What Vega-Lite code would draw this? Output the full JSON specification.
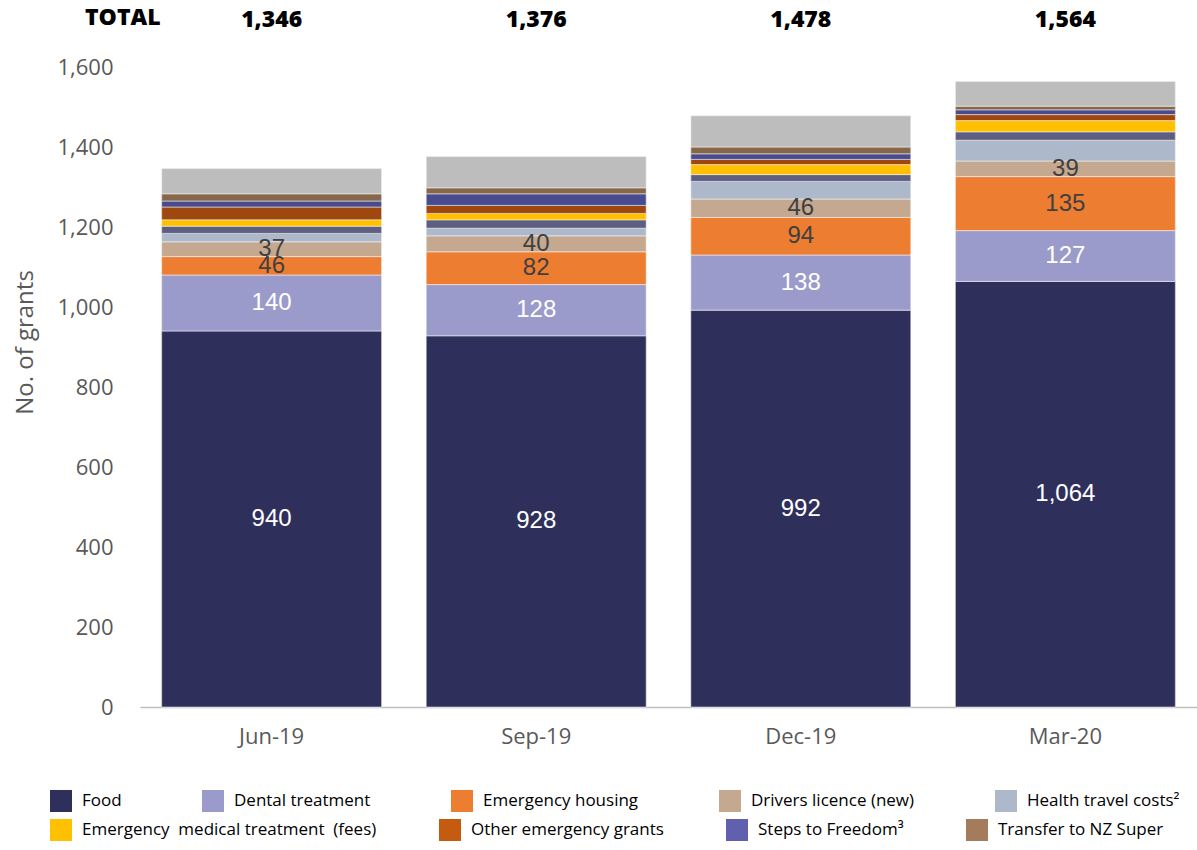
{
  "$schema": "https://vega.github.io/schema/vega-lite/v6.json",
  "width": 1057,
  "height": 640,
  "padding": {"left": 13, "top": 6, "right": 0, "bottom": 0},
  "title": {
    "text": "TOTAL",
    "anchor": "start",
    "frame": "group",
    "dx": -55,
    "dy": 29,
    "offset": 8,
    "fontSize": 23,
    "fontWeight": 800,
    "font": "Open Sans",
    "color": "#000000"
  },
  "data": {
    "values": [
      {"period": "Jun-19", "series": "Food", "ord": 1, "value": 940},
      {"period": "Jun-19", "series": "Dental treatment", "ord": 2, "value": 140},
      {"period": "Jun-19", "series": "Emergency housing", "ord": 3, "value": 46},
      {"period": "Jun-19", "series": "Drivers licence (new)", "ord": 4, "value": 37},
      {"period": "Jun-19", "series": "Health travel costs²", "ord": 5, "value": 21},
      {"period": "Jun-19", "series": "Other grants", "ord": 6, "value": 18},
      {"period": "Jun-19", "series": "Emergency\u00a0 medical treatment\u00a0 (fees)", "ord": 7, "value": 16},
      {"period": "Jun-19", "series": "Other emergency grants", "ord": 8, "value": 32},
      {"period": "Jun-19", "series": "Steps to Freedom³", "ord": 9, "value": 15},
      {"period": "Jun-19", "series": "Transfer to NZ Super", "ord": 10, "value": 18},
      {"period": "Jun-19", "series": "All other grants", "ord": 11, "value": 63},

      {"period": "Sep-19", "series": "Food", "ord": 1, "value": 928},
      {"period": "Sep-19", "series": "Dental treatment", "ord": 2, "value": 128},
      {"period": "Sep-19", "series": "Emergency housing", "ord": 3, "value": 82},
      {"period": "Sep-19", "series": "Drivers licence (new)", "ord": 4, "value": 40},
      {"period": "Sep-19", "series": "Health travel costs²", "ord": 5, "value": 19},
      {"period": "Sep-19", "series": "Other grants", "ord": 6, "value": 21},
      {"period": "Sep-19", "series": "Emergency\u00a0 medical treatment\u00a0 (fees)", "ord": 7, "value": 16},
      {"period": "Sep-19", "series": "Other emergency grants", "ord": 8, "value": 20},
      {"period": "Sep-19", "series": "Steps to Freedom³", "ord": 9, "value": 29},
      {"period": "Sep-19", "series": "Transfer to NZ Super", "ord": 10, "value": 15},
      {"period": "Sep-19", "series": "All other grants", "ord": 11, "value": 78},

      {"period": "Dec-19", "series": "Food", "ord": 1, "value": 992},
      {"period": "Dec-19", "series": "Dental treatment", "ord": 2, "value": 138},
      {"period": "Dec-19", "series": "Emergency housing", "ord": 3, "value": 94},
      {"period": "Dec-19", "series": "Drivers licence (new)", "ord": 4, "value": 46},
      {"period": "Dec-19", "series": "Health travel costs²", "ord": 5, "value": 44},
      {"period": "Dec-19", "series": "Other grants", "ord": 6, "value": 17},
      {"period": "Dec-19", "series": "Emergency\u00a0 medical treatment\u00a0 (fees)", "ord": 7, "value": 25},
      {"period": "Dec-19", "series": "Other emergency grants", "ord": 8, "value": 13},
      {"period": "Dec-19", "series": "Steps to Freedom³", "ord": 9, "value": 14},
      {"period": "Dec-19", "series": "Transfer to NZ Super", "ord": 10, "value": 17},
      {"period": "Dec-19", "series": "All other grants", "ord": 11, "value": 78},

      {"period": "Mar-20", "series": "Food", "ord": 1, "value": 1064},
      {"period": "Mar-20", "series": "Dental treatment", "ord": 2, "value": 127},
      {"period": "Mar-20", "series": "Emergency housing", "ord": 3, "value": 135},
      {"period": "Mar-20", "series": "Drivers licence (new)", "ord": 4, "value": 39},
      {"period": "Mar-20", "series": "Health travel costs²", "ord": 5, "value": 52},
      {"period": "Mar-20", "series": "Other grants", "ord": 6, "value": 21},
      {"period": "Mar-20", "series": "Emergency\u00a0 medical treatment\u00a0 (fees)", "ord": 7, "value": 28},
      {"period": "Mar-20", "series": "Other emergency grants", "ord": 8, "value": 15},
      {"period": "Mar-20", "series": "Steps to Freedom³", "ord": 9, "value": 12},
      {"period": "Mar-20", "series": "Transfer to NZ Super", "ord": 10, "value": 9},
      {"period": "Mar-20", "series": "All other grants", "ord": 11, "value": 62}
    ]
  },
  "encoding": {
    "x": {
      "field": "period",
      "type": "nominal",
      "sort": ["Jun-19", "Sep-19", "Dec-19", "Mar-20"],
      "scale": {"paddingInner": 0.169, "paddingOuter": 0.082},
      "axis": {
        "title": null,
        "labelAngle": 0,
        "ticks": false,
        "tickSize": 0,
        "labelPadding": 19,
        "labelFontSize": 22,
        "labelColor": "#595959",
        "labelFont": "Open Sans",
        "domainColor": "#BFBFBF",
        "domainWidth": 1.5
      }
    }
  },
  "layer": [
    {
      "mark": {"type": "bar", "stroke": "#ffffff", "strokeWidth": 0.5},
      "encoding": {
        "y": {
          "field": "value",
          "type": "quantitative",
          "stack": "zero",
          "scale": {"domain": [0, 1600], "nice": false},
          "axis": {
            "values": [0, 200, 400, 600, 800, 1000, 1200, 1400, 1600],
            "format": ",d",
            "grid": false,
            "domain": false,
            "ticks": false,
            "tickSize": 0,
            "labelPadding": 27,
            "labelFontSize": 22,
            "labelColor": "#595959",
            "labelFont": "Open Sans",
            "title": "No. of grants",
            "titleFontSize": 24,
            "titleFontWeight": "normal",
            "titleColor": "#595959",
            "titleFont": "Open Sans",
            "titlePadding": 19,
            "titleY": 275
          }
        },
        "fill": {
          "field": "series",
          "type": "nominal",
          "scale": {
            "domain": ["Emergency\u00a0 medical treatment\u00a0 (fees)", "Other emergency grants", "Steps to Freedom³", "Transfer to NZ Super", "Food", "Dental treatment", "Emergency housing", "Drivers licence (new)", "Health travel costs²", "Other grants", "All other grants"],
            "range": ["#FFC000", "#C55A11", "#6060AE", "#A57C5B", "#2F2F5C", "#9B9BCB", "#ED7D31", "#C4A890", "#ADB9CA", "#5E5E80", "#BDBDBD"]
          },
          "legend": {
            "orient": "none",
            "legendX": -90,
            "legendY": 752,
            "direction": "horizontal",
            "columns": 4,
            "values": ["Emergency\u00a0 medical treatment\u00a0 (fees)", "Other emergency grants", "Steps to Freedom³", "Transfer to NZ Super"],
            "title": null,
            "symbolType": "square",
            "symbolSize": 484,
            "symbolStrokeWidth": 0,
            "labelFontSize": 17,
            "labelFont": "Open Sans",
            "labelColor": "#000000",
            "labelOffset": 10,
            "labelLimit": 400,
            "columnPadding": 62
          }
        },
        "order": {"field": "ord", "type": "quantitative", "sort": "ascending"}
      }
    },
    {
      "mark": {"type": "bar", "stroke": "#ffffff", "strokeWidth": 0.5},
      "encoding": {
        "y": {"field": "value", "type": "quantitative", "stack": "zero"},
        "color": {
          "field": "series",
          "type": "nominal",
          "scale": {
            "domain": ["Food", "Dental treatment", "Emergency housing", "Drivers licence (new)", "Health travel costs²", "Other grants", "Emergency\u00a0 medical treatment\u00a0 (fees)", "Other emergency grants", "Steps to Freedom³", "Transfer to NZ Super", "All other grants"],
            "range": ["#2F2F5C", "#9B9BCB", "#ED7D31", "#C4A890", "#ADB9CA", "#5E5E80", "#FFC000", "#9E470E", "#484C8E", "#87674A", "#BDBDBD"]
          },
          "legend": {
            "orient": "none",
            "legendX": -90,
            "legendY": 723,
            "direction": "horizontal",
            "columns": 5,
            "values": ["Food", "Dental treatment", "Emergency housing", "Drivers licence (new)", "Health travel costs²"],
            "title": null,
            "symbolType": "square",
            "symbolSize": 484,
            "symbolStrokeWidth": 0,
            "labelFontSize": 17,
            "labelFont": "Open Sans",
            "labelColor": "#000000",
            "labelOffset": 10,
            "labelLimit": 400,
            "columnPadding": 80
          }
        },
        "order": {"field": "ord", "type": "quantitative", "sort": "ascending"}
      }
    },
    {
      "transform": [{"filter": "datum.ord <= 4"}],
      "mark": {"type": "text", "font": "Liberation Sans", "fontSize": 24, "baseline": "middle"},
      "encoding": {
        "y": {"field": "value", "type": "quantitative", "stack": "zero", "bandPosition": 0.5},
        "detail": {"field": "series"},
        "order": {"field": "ord", "type": "quantitative", "sort": "ascending"},
        "text": {"field": "value", "type": "quantitative", "format": ","},
        "color": {
          "condition": {"test": "datum.ord <= 2", "value": "#ffffff"},
          "value": "#404040"
        }
      }
    },
    {
      "transform": [{"aggregate": [{"op": "sum", "field": "value", "as": "total"}], "groupby": ["period"]}],
      "mark": {"type": "text", "font": "Open Sans", "fontSize": 23, "fontWeight": 800, "color": "#000000", "baseline": "middle"},
      "encoding": {
        "y": {"datum": 1718, "type": "quantitative"},
        "text": {"field": "total", "type": "quantitative", "format": ","}
      }
    }
  ],
  "config": {
    "view": {"stroke": null},
    "font": "Open Sans"
  }
}
